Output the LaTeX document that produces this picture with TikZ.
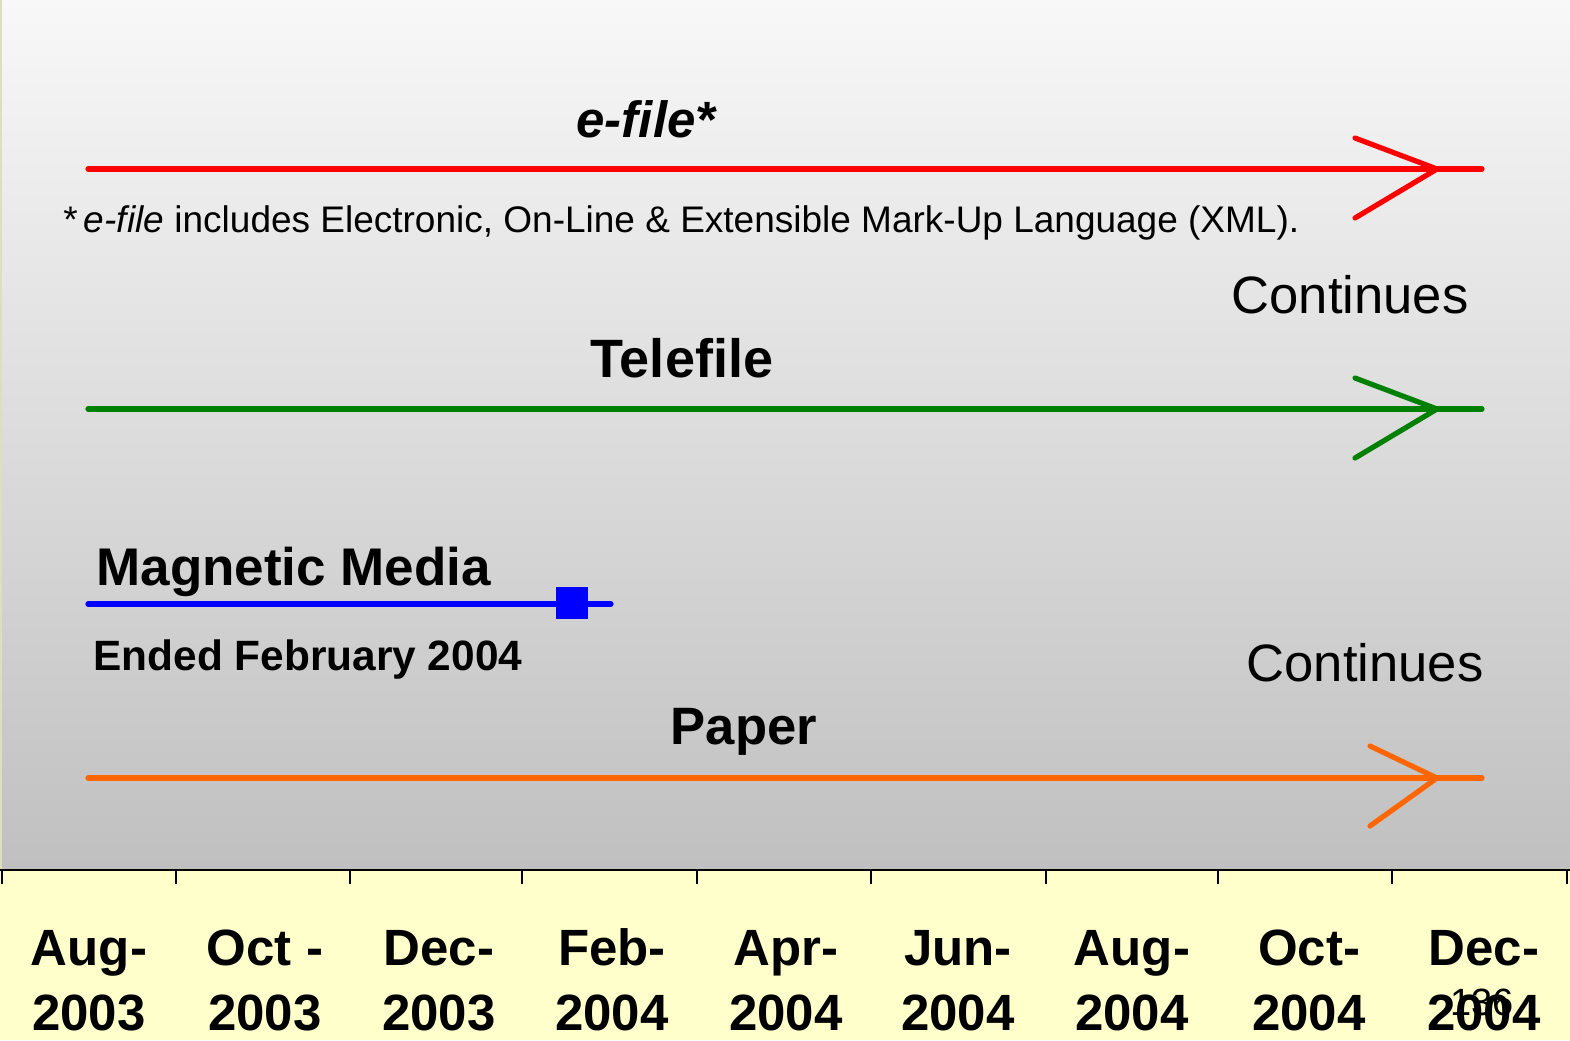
\documentclass[tikz,border=0pt]{standalone}
\usepackage{fontspec}
\setmainfont{Liberation Sans}
\usetikzlibrary{positioning}
\definecolor{efred}{RGB}{255,0,0}
\definecolor{telgreen}{RGB}{0,128,0}
\definecolor{magblue}{RGB}{0,0,255}
\definecolor{papor}{RGB}{255,102,0}
\definecolor{axisbg}{RGB}{255,255,204}
\definecolor{bgtop}{RGB}{248,248,248}
\definecolor{bgbot}{RGB}{192,192,192}

\begin{document}
\begin{tikzpicture}[
  x=0.5pt, y=-0.5pt,
  bar/.style={line width=2.6pt, line cap=round},
  chev/.style={line width=2.6pt, line cap=round, line join=miter},
  head/.style={font=\fontsize{27}{32}\selectfont\bfseries, inner sep=0pt, anchor=base},
  cont/.style={font=\fontsize{26.3}{32}\selectfont, inner sep=0pt, anchor=base},
  note/.style={font=\fontsize{18.5}{22}\selectfont, inner sep=0pt, anchor=base west},
  date/.style={font=\fontsize{25.5}{32.5}\selectfont\bfseries, align=center, inner sep=0pt, anchor=base}]
\useasboundingbox (0,0) rectangle (1570,1040);

% background and time axis
\shade[top color=bgtop, bottom color=bgbot] (0,0) rectangle (1570,869);
\fill[axisbg] (0,869) rectangle (1570,1040);
\draw[axisbg!75!gray, line width=0.8pt] (1,0) -- (1,869);
\draw[line width=1.4pt] (0,870) -- (1570,870);
\foreach \x in {2,176,350,522,697,871,1046,1218,1392,1567}{\draw[line width=1.4pt] (\x,870) -- (\x,884);}

\def\rA{169}\def\rB{409}\def\rC{604}\def\rD{778}

% e-file
\node[head, font=\fontsize{25.5}{32}\selectfont\bfseries] (efile) at (647,137) {\textit{e-file*}};
\coordinate (eS) at (88,\rA); \coordinate (eE) at (1482,\rA);
\coordinate (eT) at (1437,\rA); \coordinate (eU) at (1355,138); \coordinate (eL) at (1355,218);
\draw[bar, efred] (eS) -- (eE);
\draw[chev, efred] (eU) -- (eT) -- (eL);
\node[note] (efnote) at (63,232) {*\,\textit{e-file} includes Electronic, On-Line \& Extensible Mark-Up Language (XML).};

% Telefile
\node[cont] (contA) at (1350,313) {Continues};
\node[head] (tfile) at (682,377) {Telefile};
\coordinate (tS) at (88,\rB); \coordinate (tE) at (1482,\rB);
\coordinate (tT) at (1437,\rB); \coordinate (tU) at (1355,378); \coordinate (tL) at (1355,458);
\draw[bar, telgreen] (tS) -- (tE);
\draw[chev, telgreen] (tU) -- (tT) -- (tL);

% Magnetic Media
\node[head, anchor=base west, font=\fontsize{26.5}{32}\selectfont\bfseries] (mmedia) at (96,585) {Magnetic Media};
\coordinate (mS) at (88,\rC); \coordinate (mE) at (611,\rC);
\draw[bar, magblue] (mS) -- (mE);
\node[fill=magblue, inner sep=0pt, minimum size=16pt] (mstop) at (572,603) {};
\node[head, anchor=base west, font=\fontsize{21.2}{26}\selectfont\bfseries] (mend) at (93,670) {Ended February 2004};

% Paper
\node[cont] (contB) at (1365,681) {Continues};
\node[head, font=\fontsize{26.3}{32}\selectfont\bfseries] (paper) at (744,744) {Paper};
\coordinate (pS) at (88,\rD); \coordinate (pE) at (1482,\rD);
\coordinate (pT) at (1437,\rD); \coordinate (pU) at (1370,746); \coordinate (pL) at (1370,826);
\draw[bar, papor] (pS) -- (pE);
\draw[chev, papor] (pU) -- (pT) -- (pL);

% dates
\foreach \x/\m/\y [count=\i] in {89/Aug-/2003, 265/Oct -/2003, 439/Dec-/2003, 612/Feb-/2004, 786/Apr-/2004, 958/Jun-/2004, 1132/Aug-/2004, 1309/Oct-/2004, 1484/Dec-/2004}{
  \node[date] (d\i) at (\x,1030) {\m\\\y};}
\node[font=\fontsize{19}{22}\selectfont, inner sep=0pt, anchor=base] (pgno) at (1482,1015) {136};
\end{tikzpicture}
\end{document}
